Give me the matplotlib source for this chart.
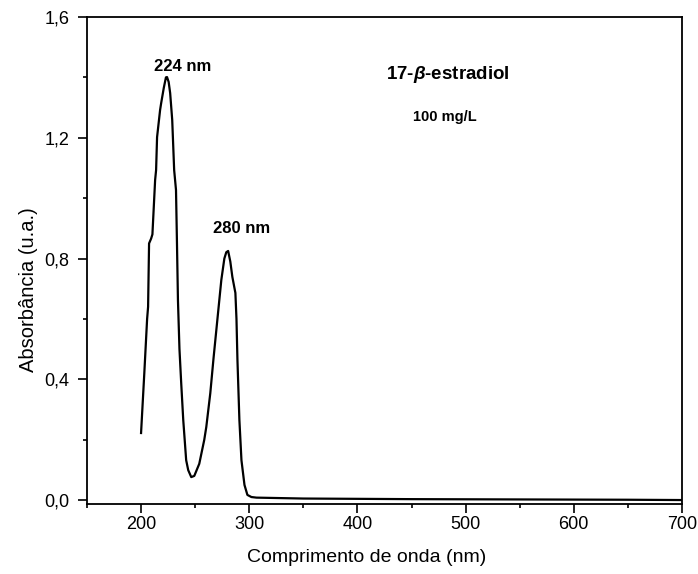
import numpy as np
import matplotlib
matplotlib.use("Agg")
import matplotlib.pyplot as plt
from matplotlib.ticker import MultipleLocator, FuncFormatter

plt.rcParams['font.family'] = ['Liberation Sans', 'DejaVu Sans']
plt.rcParams['mathtext.fontset'] = 'custom'
plt.rcParams['mathtext.it'] = 'Liberation Sans:italic:bold'

# spectrum
wavelength = [200.0, 203.0, 205.6, 206.5, 207.4, 209.3, 210.5, 213.0, 213.9, 214.8,
              217.6, 218.6, 221.0, 223.0, 224.0, 225.5, 226.9, 228.8, 230.6, 232.3,
              233.2, 234.1, 235.5, 237.1, 239.0, 241.7, 243.6, 246.4, 249.2, 253.8,
              258.4, 260.3, 264.0, 267.0, 270.5, 274.2, 277.0, 278.8, 280.5, 282.5,
              284.4, 287.2, 288.2, 289.1, 290.9, 292.8, 295.6, 298.3, 302.0, 306.7,
              350.0, 450.0, 550.0, 650.0, 700.0]
absorbance = [0.222, 0.420, 0.600, 0.640, 0.850, 0.866, 0.880, 1.060, 1.093, 1.202,
              1.292, 1.315, 1.365, 1.400, 1.401, 1.385, 1.348, 1.259, 1.093, 1.027,
              0.850, 0.662, 0.500, 0.388, 0.265, 0.132, 0.099, 0.076, 0.080, 0.120,
              0.199, 0.242, 0.354, 0.470, 0.596, 0.729, 0.800, 0.821, 0.825, 0.790,
              0.739, 0.686, 0.600, 0.464, 0.265, 0.132, 0.050, 0.017, 0.010, 0.008,
              0.005, 0.003, 0.002, 0.001, 0.000]

peak_labels = ["224 nm", "280 nm"]
peak_label_pos = [(238, 1.437), (293, 0.898)]

fig = plt.figure(figsize=(6.98, 5.74), dpi=100)
ax = fig.add_axes([0.1246, 0.122, 0.977 - 0.1246, 0.9704 - 0.122])

ax.plot(wavelength, absorbance, color="black", lw=1.6)

ax.set_xlim(150, 700)
ax.set_ylim(-0.013, 1.6)

ax.xaxis.set_major_locator(MultipleLocator(100))
ax.xaxis.set_minor_locator(MultipleLocator(50))
ax.yaxis.set_major_locator(MultipleLocator(0.4))
ax.yaxis.set_minor_locator(MultipleLocator(0.2))
ax.yaxis.set_major_formatter(FuncFormatter(lambda v, p: f"{v:.1f}".replace(".", ",")))
ax.tick_params(which="major", direction="out", length=6.5, width=1.2, labelsize=13)
ax.tick_params(which="minor", direction="out", length=3.2, width=1.2)
ax.tick_params(axis="x", which="major", pad=2)
ax.tick_params(axis="y", which="major", pad=6)
ax.set_xticks([200, 300, 400, 500, 600, 700])
for s in ax.spines.values():
    s.set_linewidth(1.3)

ax.set_xlabel("Comprimento de onda (nm)", fontsize=14)
ax.set_ylabel("Absorbância (u.a.)", fontsize=14.5)
ax.xaxis.set_label_coords(0.47, -0.093)
ax.yaxis.set_label_coords(-0.082, 0.44)

for lab, (x, y) in zip(peak_labels, peak_label_pos):
    ax.text(x, y, lab, fontsize=12, fontweight="bold", ha="center", va="center")

ax.text(484, 1.408, r"17-$\beta$-estradiol", fontsize=13.5, fontweight="bold", ha="center", va="center")
ax.text(481, 1.269, "100 mg/L", fontsize=10.5, fontweight="bold", ha="center", va="center")

fig.savefig("out.png", dpi=100)
